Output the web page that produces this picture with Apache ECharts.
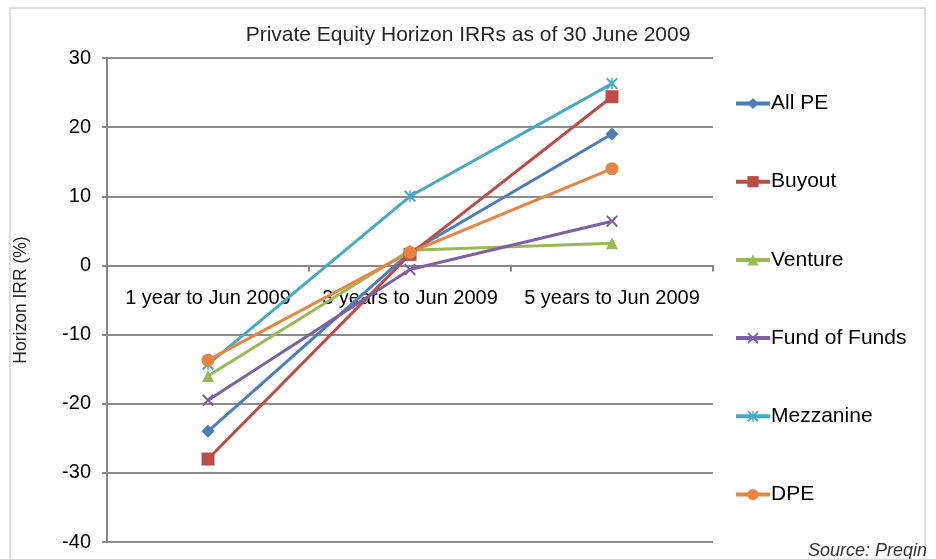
<!DOCTYPE html>
<html>
<head>
<meta charset="utf-8">
<script src="https://cdn.jsdelivr.net/npm/echarts@6/dist/echarts.min.js"></script>
<style>
  html, body { margin: 0; padding: 0; background: #fff; }
  #chart { width: 936px; height: 559px; }
</style>
</head>
<body>
<div id="chart"></div>
<script>
// categories and values
const categories = ['1 year to Jun 2009', '3 years to Jun 2009', '5 years to Jun 2009'];
const allPE = [-24.0, 1.9, 19.0];
const buyout = [-28.0, 1.6, 24.4];
const venture = [-16.0, 2.2, 3.2];
const fundOfFunds = [-19.5, -0.6, 6.4];
const mezzanine = [-14.3, 10.0, 26.3];
const dpe = [-13.7, 1.9, 14.0];

const yMin = -40;
const yMax = 30;

const xMark = 'path://M0,1.2L1.2,0L10,8.8L8.8,10Z M8.8,0L10,1.2L1.2,10L0,8.8Z';
const starMark = 'path://M0,1.2L1.2,0L10,8.8L8.8,10Z M8.8,0L10,1.2L1.2,10L0,8.8Z M4.4,0L5.6,0L5.6,10L4.4,10Z';

const gridTop = 58;
const gridBottom = 17;
const chartHeight = 559;
// category labels sit just under the zero line, as in the original
const zeroOffset = -(chartHeight - gridTop - gridBottom) * (0 - yMin) / (yMax - yMin);

const chart = echarts.init(document.getElementById('chart'));

function makeSeries(name, data, color, symbol, size) {
  return {
    name: name,
    type: 'line',
    data: data,
    symbol: symbol,
    symbolSize: size,
    showAllSymbol: true,
    lineStyle: { color: color, width: 3 },
    itemStyle: { color: color },
    emphasis: { disabled: true },
    z: 3
  };
}

const option = {
  animation: false,
  textStyle: { fontFamily: 'Liberation Sans, Arial, sans-serif' },
  title: {
    text: 'Private Equity Horizon IRRs as of 30 June 2009',
    left: 'center',
    top: 20,
    textStyle: { fontSize: 21, fontWeight: 'normal', color: '#262626' }
  },
  legend: {
    orient: 'vertical',
    left: 729,
    top: 88,
    itemWidth: 34,
    itemHeight: 14,
    itemGap: 57.2,
    lineStyle: { width: 4 },
    textStyle: { fontSize: 21, color: '#000', padding: [0, 0, 0, -4] },
    data: ['All PE', 'Buyout', 'Venture', 'Fund of Funds', 'Mezzanine', 'DPE']
  },
  grid: { left: 107, right: 223, top: gridTop, bottom: gridBottom, outerBoundsMode: 'none' },
  xAxis: [
    {
      type: 'category',
      data: categories,
      boundaryGap: true,
      axisLine: { onZero: true, lineStyle: { color: '#878787', width: 2 } },
      axisTick: { show: true, length: 6, lineStyle: { color: '#878787', width: 2 } },
      axisLabel: { show: false }
    },
    {
      type: 'category',
      data: categories,
      position: 'bottom',
      offset: zeroOffset,
      boundaryGap: true,
      axisLine: { show: false, onZero: false },
      axisTick: { show: false },
      axisLabel: { color: '#000', fontSize: 20, margin: 23, interval: 0 }
    }
  ],
  yAxis: {
    type: 'value',
    min: yMin,
    max: yMax,
    interval: 10,
    name: 'Horizon IRR (%)',
    nameLocation: 'middle',
    nameGap: 77,
    nameTextStyle: { fontSize: 17.5, color: '#262626' },
    axisLine: { show: true, lineStyle: { color: '#878787', width: 2 } },
    axisTick: { show: true, length: 5, lineStyle: { color: '#878787', width: 2 } },
    axisLabel: { color: '#000', fontSize: 20, margin: 16 },
    splitLine: { lineStyle: { color: '#8c8c8c', width: 2 } }
  },
  graphic: [
    {
      type: 'rect',
      shape: { x: 10, y: 8, width: 915, height: 570 },
      style: { fill: 'none', stroke: '#d4d4d4', lineWidth: 1.5 },
      z: -1
    },
    {
      type: 'text',
      right: 9,
      bottom: -1,
      style: {
        text: 'Source: Preqin',
        font: 'italic 18px Liberation Sans, Arial, sans-serif',
        fill: '#333'
      }
    }
  ],
  series: [
    makeSeries('All PE', allPE, '#4a7ebb', 'diamond', 13),
    makeSeries('Buyout', buyout, '#be4b48', 'rect', 13),
    makeSeries('Venture', venture, '#98b954', 'triangle', 12),
    makeSeries('Fund of Funds', fundOfFunds, '#7d60a0', xMark, 12),
    makeSeries('Mezzanine', mezzanine, '#46aac5', starMark, 12),
    makeSeries('DPE', dpe, '#e8843f', 'circle', 13)
  ]
};

chart.setOption(option);
</script>
</body>
</html>
